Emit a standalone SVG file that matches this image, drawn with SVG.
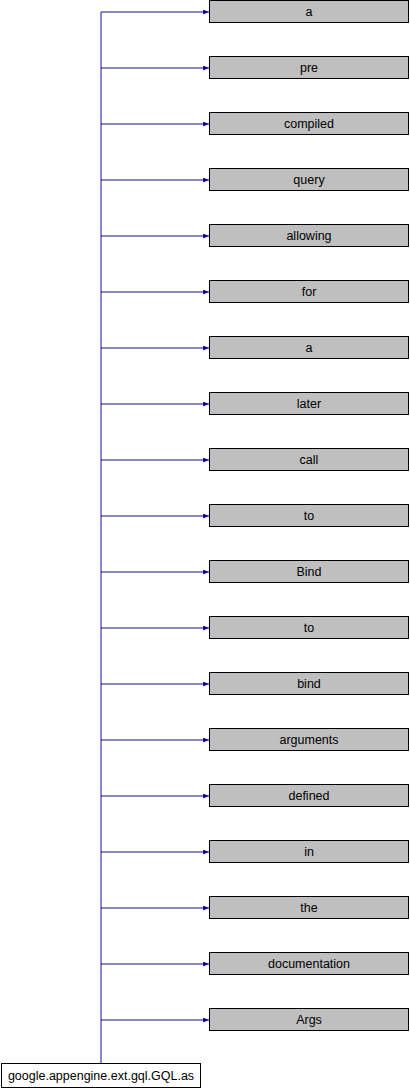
<svg xmlns="http://www.w3.org/2000/svg" width="410" height="1088" viewBox="0 0 410 1088">
<style>
.n rect{fill:#bfbfbf;stroke:#000;stroke-width:1}
.r rect{fill:#fff;stroke:#000;stroke-width:1}
text{font-family:"Liberation Sans",Arial,sans-serif;font-size:12.5px;fill:#000;text-anchor:middle}
.e{stroke:#10109a;stroke-width:1;fill:none}
</style>
<defs>
<marker id="ah" markerWidth="6" markerHeight="5" refX="6" refY="2.5" orient="auto" markerUnits="userSpaceOnUse">
<path d="M0,0 L6,2.5 L0,5 Z" fill="#10109a"/>
</marker>
</defs>
<rect width="410" height="1088" fill="#fff"/>
<g id="edges">
<path class="e" d="M101,1063.5 V12"/>
<path class="e" d="M101,12 H209" marker-end="url(#ah)"/>
<path class="e" d="M101,68 H209" marker-end="url(#ah)"/>
<path class="e" d="M101,124 H209" marker-end="url(#ah)"/>
<path class="e" d="M101,180 H209" marker-end="url(#ah)"/>
<path class="e" d="M101,236 H209" marker-end="url(#ah)"/>
<path class="e" d="M101,292 H209" marker-end="url(#ah)"/>
<path class="e" d="M101,348 H209" marker-end="url(#ah)"/>
<path class="e" d="M101,404 H209" marker-end="url(#ah)"/>
<path class="e" d="M101,460 H209" marker-end="url(#ah)"/>
<path class="e" d="M101,516 H209" marker-end="url(#ah)"/>
<path class="e" d="M101,572 H209" marker-end="url(#ah)"/>
<path class="e" d="M101,628 H209" marker-end="url(#ah)"/>
<path class="e" d="M101,684 H209" marker-end="url(#ah)"/>
<path class="e" d="M101,740 H209" marker-end="url(#ah)"/>
<path class="e" d="M101,796 H209" marker-end="url(#ah)"/>
<path class="e" d="M101,852 H209" marker-end="url(#ah)"/>
<path class="e" d="M101,908 H209" marker-end="url(#ah)"/>
<path class="e" d="M101,964 H209" marker-end="url(#ah)"/>
<path class="e" d="M101,1020 H209" marker-end="url(#ah)"/>
</g>
<g id="root" class="r"><rect x="1.5" y="1063.5" width="199" height="24"/><text x="101" y="1080">google.appengine.ext.gql.GQL.as</text></g>
<g id="n0" class="n"><rect x="209.5" y="0.5" width="199" height="22"/><text x="309" y="16">a</text></g>
<g id="n1" class="n"><rect x="209.5" y="56.5" width="199" height="22"/><text x="309" y="72">pre</text></g>
<g id="n2" class="n"><rect x="209.5" y="112.5" width="199" height="22"/><text x="309" y="128">compiled</text></g>
<g id="n3" class="n"><rect x="209.5" y="168.5" width="199" height="22"/><text x="309" y="184">query</text></g>
<g id="n4" class="n"><rect x="209.5" y="224.5" width="199" height="22"/><text x="309" y="240">allowing</text></g>
<g id="n5" class="n"><rect x="209.5" y="280.5" width="199" height="22"/><text x="309" y="296">for</text></g>
<g id="n6" class="n"><rect x="209.5" y="336.5" width="199" height="22"/><text x="309" y="352">a</text></g>
<g id="n7" class="n"><rect x="209.5" y="392.5" width="199" height="22"/><text x="309" y="408">later</text></g>
<g id="n8" class="n"><rect x="209.5" y="448.5" width="199" height="22"/><text x="309" y="464">call</text></g>
<g id="n9" class="n"><rect x="209.5" y="504.5" width="199" height="22"/><text x="309" y="520">to</text></g>
<g id="n10" class="n"><rect x="209.5" y="560.5" width="199" height="22"/><text x="309" y="576">Bind</text></g>
<g id="n11" class="n"><rect x="209.5" y="616.5" width="199" height="22"/><text x="309" y="632">to</text></g>
<g id="n12" class="n"><rect x="209.5" y="672.5" width="199" height="22"/><text x="309" y="688">bind</text></g>
<g id="n13" class="n"><rect x="209.5" y="728.5" width="199" height="22"/><text x="309" y="744">arguments</text></g>
<g id="n14" class="n"><rect x="209.5" y="784.5" width="199" height="22"/><text x="309" y="800">defined</text></g>
<g id="n15" class="n"><rect x="209.5" y="840.5" width="199" height="22"/><text x="309" y="856">in</text></g>
<g id="n16" class="n"><rect x="209.5" y="896.5" width="199" height="22"/><text x="309" y="912">the</text></g>
<g id="n17" class="n"><rect x="209.5" y="952.5" width="199" height="22"/><text x="309" y="968">documentation</text></g>
<g id="n18" class="n"><rect x="209.5" y="1008.5" width="199" height="22"/><text x="309" y="1024">Args</text></g>
</svg>
